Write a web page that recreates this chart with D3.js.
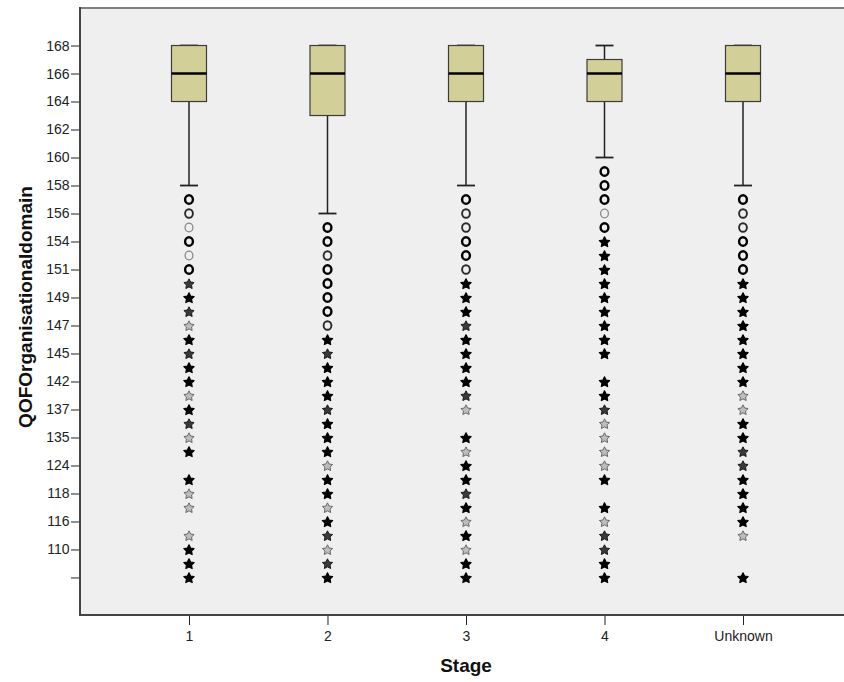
<!DOCTYPE html>
<html><head><meta charset="utf-8">
<script src="https://cdn.jsdelivr.net/npm/d3@7"></script>
<style>
html,body{margin:0;padding:0;background:#fff;}
svg{display:block;font-family:"Liberation Sans",Arial,sans-serif;}
</style></head>
<body><svg id="c" width="844" height="682"></svg>
<script>
// ---- data ----
const stages = ["1", "2", "3", "4", "Unknown"];
const q1 = [164, 163, 164, 164, 164];
const medians = [166, 166, 166, 166, 166];
const q3 = [168, 168, 168, 167, 168];
const whiskerLow = [158, 156, 158, 160, 158];
const whiskerHigh = [168, 168, 168, 168, 168];

// distinct values on the (ordinal) y axis, top to bottom
const yLevels = [168,167,166,165,164,163,162,161,160,159,158,157,156,155,154,153,151,150,149,148,
                 147,146,145,144,142,140,137,136,135,130,124,120,118,117,116,113,110,106,100];
const yTickLabels = ["168","166","164","162","160","158","156","154","151","149","147","145","142",
                     "137","135","124","118","116","110",""];

// outliers per stage: value, marker ("o" outlier / "*" extreme), darkness (overlap 1..3)
const out1Values = [157,156,155,154,153,151,150,149,148,147,146,145,144,142,140,137,136,135,130,120,118,117,113,110,106,100];
const out1Marks  = "oooooo********************";
const out1Weight = [3,2,1,3,1,3,2,3,2,1,3,2,3,3,1,3,2,1,3,3,1,1,1,3,3,3];

const out2Values = [155,154,153,151,150,149,148,147,146,145,144,142,140,137,136,135,130,124,120,118,117,116,113,110,106,100];
const out2Marks  = "oooooooo******************";
const out2Weight = [3,3,2,3,3,3,3,2,3,2,3,3,3,2,3,3,3,1,3,3,1,3,2,1,2,3];

const out3Values = [157,156,155,154,153,151,150,149,148,147,146,145,144,142,140,137,135,130,124,120,118,117,116,113,110,106,100];
const out3Marks  = "oooooo*********************";
const out3Weight = [3,2,2,3,3,2,3,3,3,2,3,3,3,3,2,1,3,1,3,3,2,3,1,3,1,3,3];

const out4Values = [159,158,157,156,155,154,153,151,150,149,148,147,146,145,142,140,137,136,135,130,124,120,117,116,113,110,106,100];
const out4Marks  = "ooooo***********************";
const out4Weight = [3,3,3,1,3,3,3,3,3,3,3,3,3,3,3,3,2,1,1,1,1,3,3,1,2,2,3,3];

const out5Values = [157,156,155,154,153,151,150,149,148,147,146,145,144,142,140,137,136,135,130,124,120,118,117,116,113,100];
const out5Marks  = "oooooo********************";
const out5Weight = [3,2,2,3,3,3,3,3,3,3,3,3,3,3,1,1,3,3,2,2,3,3,3,3,1,3];

const outValues = [out1Values, out2Values, out3Values, out4Values, out5Values];
const outMarks = [out1Marks, out2Marks, out3Marks, out4Marks, out5Marks];
const outWeights = [out1Weight, out2Weight, out3Weight, out4Weight, out5Weight];

const xTitle = "Stage";
const yTitle = "QOFOrganisationaldomain";

// ---- layout ----
const svg = d3.select("#c");
const L = 80, T = 8, R = 852, B = 615;

const x = d3.scalePoint().domain(stages).range([L, R]).padding(0.787);
const y = d3.scalePoint().domain(yLevels).range([T, B]).padding(2.68);

svg.append("rect").attr("x", L).attr("y", T).attr("width", R - L).attr("height", B - T).attr("fill", "#efefef");

// y axis
const yTickVals = yLevels.filter((d, i) => i % 2 === 0);
const yAxis = svg.append("g").attr("transform", `translate(${L},0)`)
  .call(d3.axisLeft(y).tickValues(yTickVals).tickFormat((d, i) => yTickLabels[i]).tickSize(9).tickPadding(1.5));
yAxis.select(".domain").remove();
yAxis.selectAll("line").attr("stroke", "#222");
yAxis.selectAll("text").attr("font-size", 14).attr("fill", "#222").attr("font-family", "Liberation Sans, Arial, sans-serif");

// x axis
const xAxis = svg.append("g").attr("transform", `translate(0,${B})`)
  .call(d3.axisBottom(x).tickSize(10).tickPadding(6.5));
xAxis.select(".domain").remove();
xAxis.selectAll("line").attr("stroke", "#222");
xAxis.selectAll("text").attr("font-size", 14).attr("fill", "#222").attr("font-family", "Liberation Sans, Arial, sans-serif");

// frame
svg.append("line").attr("x1", L).attr("x2", R).attr("y1", T).attr("y2", T).attr("stroke", "#808080").attr("stroke-width", 2);
svg.append("line").attr("x1", L).attr("x2", L).attr("y1", T - 1).attr("y2", B + 1).attr("stroke", "#444").attr("stroke-width", 2);
svg.append("line").attr("x1", L).attr("x2", R).attr("y1", B).attr("y2", B).attr("stroke", "#444").attr("stroke-width", 2);

// fat five-armed asterisk-like star symbol
const fatStar = {
  draw(ctx, size) {
    const ro = Math.sqrt(size) * 0.95, ri = ro * 0.5;
    for (let k = 0; k < 10; k++) {
      const a = -Math.PI / 2 + k * Math.PI / 5;
      const r = k % 2 ? ri : ro;
      const px = r * Math.cos(a), py = r * Math.sin(a);
      if (k === 0) ctx.moveTo(px, py); else ctx.lineTo(px, py);
    }
    ctx.closePath();
  }
};
const star = d3.symbol().type(fatStar).size(32)();

// boxes
const bw = 35, cw = 18;
stages.forEach((s, i) => {
  const cx = x(s);
  const g = svg.append("g");
  // lower whisker
  g.append("line").attr("x1", cx).attr("x2", cx).attr("y1", y(q1[i])).attr("y2", y(whiskerLow[i])).attr("stroke", "#222").attr("stroke-width", 1.5);
  g.append("line").attr("x1", cx - cw / 2).attr("x2", cx + cw / 2).attr("y1", y(whiskerLow[i])).attr("y2", y(whiskerLow[i])).attr("stroke", "#222").attr("stroke-width", 1.8);
  // upper whisker
  g.append("line").attr("x1", cx).attr("x2", cx).attr("y1", y(q3[i])).attr("y2", y(whiskerHigh[i])).attr("stroke", "#222").attr("stroke-width", 1.5);
  g.append("line").attr("x1", cx - cw / 2).attr("x2", cx + cw / 2).attr("y1", y(whiskerHigh[i])).attr("y2", y(whiskerHigh[i])).attr("stroke", "#222").attr("stroke-width", 1.8);
  // box
  g.append("rect").attr("x", cx - bw / 2).attr("y", y(q3[i])).attr("width", bw).attr("height", y(q1[i]) - y(q3[i]))
    .attr("fill", "#d3cf99").attr("stroke", "#3c3c3c").attr("stroke-width", 1.2);
  g.append("line").attr("x1", cx - bw / 2).attr("x2", cx + bw / 2).attr("y1", y(medians[i])).attr("y2", y(medians[i])).attr("stroke", "#000").attr("stroke-width", 2.6);

  // outliers
  outValues[i].forEach((v, j) => {
    const m = outMarks[i][j], w = outWeights[i][j];
    const cy = y(v);
    if (m === "o") {
      g.append("ellipse").attr("cx", cx).attr("cy", cy).attr("rx", 3.9).attr("ry", 4.3).attr("fill", "none")
        .attr("stroke", w === 3 ? "#000" : w === 2 ? "#2a2a2a" : "#8a8a8a")
        .attr("stroke-width", w === 3 ? 2.4 : w === 2 ? 1.9 : 1.3);
    } else {
      g.append("path").attr("d", star).attr("transform", `translate(${cx},${cy + 0.7})`)
        .attr("fill", w === 3 ? "#000" : w === 2 ? "#3a3a3a" : "#bdbdbd")
        .attr("stroke", w === 3 ? "#000" : w === 2 ? "#1a1a1a" : "#5e5e5e")
        .attr("stroke-width", w === 3 ? 1.2 : w === 2 ? 1 : 0.9)
        .attr("stroke-linejoin", "round");
    }
  });
});

// titles
svg.append("text").attr("x", 466).attr("y", 672).attr("text-anchor", "middle")
  .attr("font-size", 19).attr("font-weight", "bold").attr("fill", "#111").text(xTitle);
svg.append("text").attr("transform", "translate(32,307) rotate(-90)").attr("text-anchor", "middle")
  .attr("font-size", 19).attr("font-weight", "bold").attr("fill", "#111").text(yTitle);
</script>
</body></html>
